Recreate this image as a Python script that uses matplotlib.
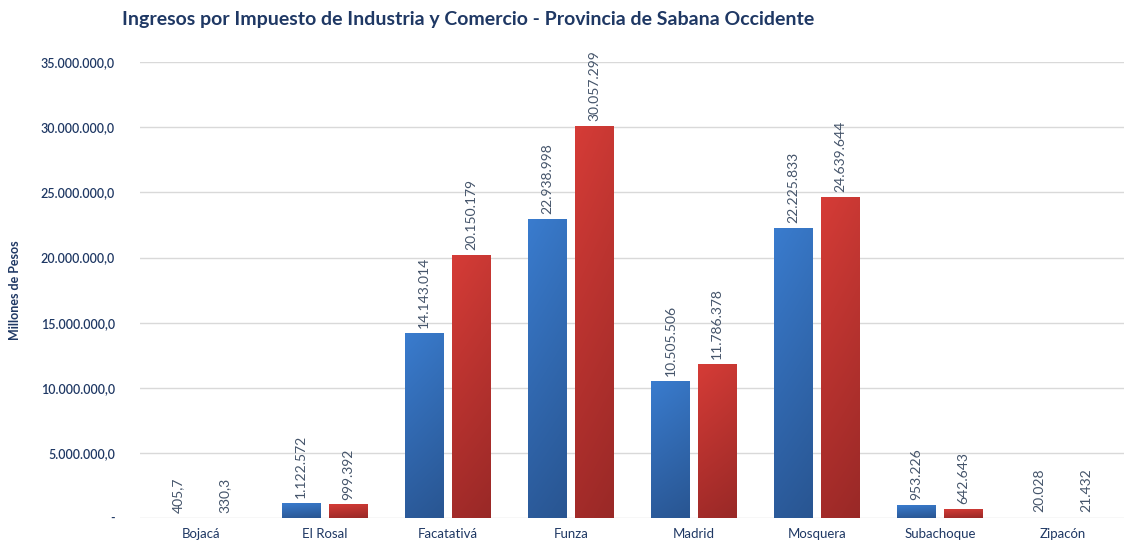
import numpy as np
import matplotlib.pyplot as plt
from matplotlib.ticker import FuncFormatter

plt.rcParams['font.family'] = ['Lato', 'DejaVu Sans']

municipios = ['Bojacá', 'El Rosal', 'Facatativá', 'Funza', 'Madrid',
              'Mosquera', 'Subachoque', 'Zipacón']
serie_azul = [405.7, 1122572, 14143014, 22938998, 10505506, 22225833, 953226, 20028]
serie_roja = [330.3, 999392, 20150179, 30057299, 11786378, 24639644, 642643, 21432]
yticks = np.arange(0, 35000001, 5000000)

azul_osc = '#1F3864'


def fmt_es(v, dec=0):
    s = f'{v:,.{dec}f}'
    return s.replace(',', 'X').replace('.', ',').replace('X', '.')


def fmt_label(v):
    if v != int(v):
        return fmt_es(v, 1)
    return fmt_es(v, 0)


def fmt_tick(v, pos):
    if v == 0:
        return '-'
    return fmt_es(v, 1)


def gradient_bars(ax, bars, top_col, bot_col):
    c1 = np.array(plt.matplotlib.colors.to_rgb(top_col))
    c2 = np.array(plt.matplotlib.colors.to_rgb(bot_col))
    t = np.linspace(0, 1, 100)[:, None]
    grad = (c1 * (1 - t) + c2 * t)[:, None, :]
    h = np.linspace(1.03, 0.97, 20)[None, :, None]
    img = np.clip(grad * h, 0, 1)
    ymax = ax.get_ylim()[1]
    for b in bars:
        b.set_alpha(0)
        x0, y0 = b.get_x(), b.get_y()
        w, hh = b.get_width(), b.get_height()
        if hh < ymax * 0.003:
            # too small to be seen at this scale
            continue
        ax.imshow(img, extent=(x0, x0 + w, y0, y0 + hh), aspect='auto',
                  origin='upper', zorder=3, interpolation='bilinear')


fig = plt.figure(figsize=(11.29, 5.5), dpi=100)
ax = fig.add_axes([0.124, 0.058, 0.872, 0.829])

x = np.arange(len(municipios))
w = 0.315
b1 = ax.bar(x - 0.19, serie_azul, w, color='#3070C0', zorder=3)
b2 = ax.bar(x + 0.19, serie_roja, w, color='#C83030', zorder=3)
ax.set_xlim(-0.5, len(municipios) - 0.5)
ax.set_ylim(0, 35000000)
gradient_bars(ax, b1, '#3878C8', '#2A5896')
gradient_bars(ax, b2, '#CF3A35', '#9E2A28')

for bars, vals in ((b1, serie_azul), (b2, serie_roja)):
    for b, v in zip(bars, vals):
        ax.annotate(fmt_label(v), (b.get_x() + b.get_width() / 2, b.get_height()),
                    xytext=(0, 4), textcoords='offset points', rotation=90,
                    ha='center', va='bottom', fontsize=10, color='#44546A')

ax.set_yticks(yticks)
ax.yaxis.set_major_formatter(FuncFormatter(fmt_tick))
ax.set_xticks(x)
ax.set_xticklabels(municipios, fontsize=9.5, color=azul_osc)
ax.tick_params(axis='y', labelsize=9, labelcolor=azul_osc, length=0, pad=18)
for lbl in ax.get_yticklabels():
    lbl.set_fontweight('semibold')
ax.tick_params(axis='x', length=0, pad=7)
ax.grid(axis='y', color='#D9D9D9', linewidth=1, zorder=0)
for s in ax.spines.values():
    s.set_visible(False)

ax.set_ylabel('Millones de Pesos', fontsize=9, fontweight='bold', color=azul_osc, labelpad=14)
fig.text(0.108, 0.965, 'Ingresos por Impuesto de Industria y Comercio - Provincia de Sabana Occidente',
         fontsize=14, fontweight='bold', color=azul_osc, ha='left', va='center')

fig.savefig('out.png', dpi=100)
